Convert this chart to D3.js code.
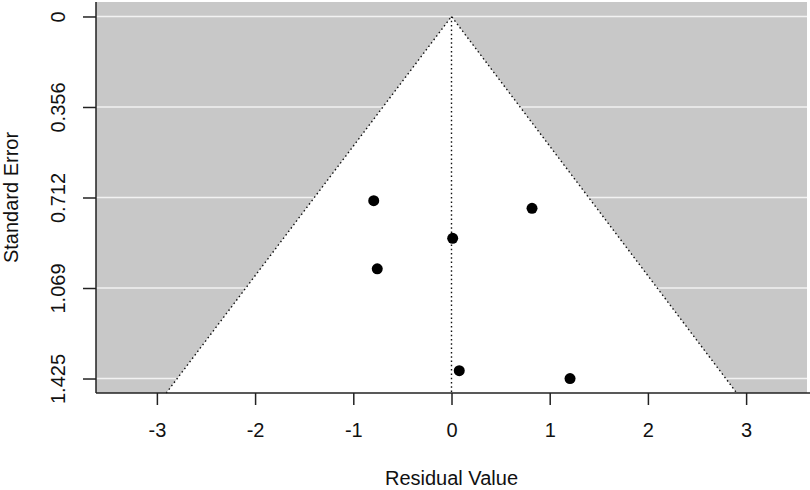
<!DOCTYPE html>
<html>
<head>
<meta charset="utf-8">
<script src="https://d3js.org/d3.v7.min.js"></script>
<style>
  html, body { margin: 0; padding: 0; background: #fff; }
  svg { display: block; font-family: "Liberation Sans", Arial, sans-serif; }
</style>
</head>
<body>
<svg id="chart" width="810" height="490"></svg>
<script>
// residual values and their standard errors
const residuals = [-0.792, 0.820, 0.012, -0.756, 0.079, 1.207];
const stdErrors = [0.725, 0.755, 0.873, 0.993, 1.394, 1.425];

const xTicks = [-3, -2, -1, 0, 1, 2, 3];
const xTickLabels = ['-3', '-2', '-1', '0', '1', '2', '3'];
const yTicks = [0, 0.35625, 0.7125, 1.06875, 1.425];
const yTickLabels = ['0', '0.356', '0.712', '1.069', '1.425'];

const seMax = 1.425;
const zCrit = 1.96;

const svg = d3.select('#chart');
const W = 810, H = 490;
const plot = { left: 96, right: 807, top: 2, bottom: 393 };

// R-style 4% axis expansion
const yPad = seMax * 0.04;
const x = d3.scaleLinear().domain([-3.62, 3.62]).range([plot.left, plot.right]);
const y = d3.scaleLinear().domain([-yPad, seMax + yPad]).range([plot.top, plot.bottom]);
const yBottom = y.domain()[1];

// grey background
svg.append('rect')
  .attr('x', plot.left).attr('y', plot.top)
  .attr('width', plot.right - plot.left).attr('height', plot.bottom - plot.top)
  .attr('fill', '#c8c8c8');

// white horizontal grid lines
svg.append('g').selectAll('line')
  .data(yTicks).join('line')
    .attr('x1', plot.left).attr('x2', plot.right)
    .attr('y1', d => y(d)).attr('y2', d => y(d))
    .attr('stroke', '#f2f2f2').attr('stroke-width', 1.6);

// funnel (white triangle)
const funnel = [[-zCrit * yBottom, yBottom], [0, 0], [zCrit * yBottom, yBottom]];
svg.append('path')
  .attr('d', d3.line().x(d => x(d[0])).y(d => y(d[1]))(funnel) + 'Z')
  .attr('fill', '#fff');

// dotted funnel edges
svg.append('path')
  .attr('d', d3.line().x(d => x(d[0])).y(d => y(d[1]))(funnel))
  .attr('fill', 'none').attr('stroke', '#111')
  .attr('stroke-width', 1.4).attr('stroke-dasharray', '1.5,2.8');

// dotted centre line
svg.append('line')
  .attr('x1', x(0)).attr('x2', x(0))
  .attr('y1', y(0)).attr('y2', y(yBottom))
  .attr('stroke', '#111').attr('stroke-width', 1.4).attr('stroke-dasharray', '1.5,2.8');

// points
svg.append('g').selectAll('circle')
  .data(residuals.map((r, i) => ({ r, se: stdErrors[i] })))
  .join('circle')
    .attr('cx', d => x(d.r)).attr('cy', d => y(d.se))
    .attr('r', 5.5).attr('fill', '#000');

// axes
const xAxis = svg.append('g')
  .attr('transform', `translate(0,${plot.bottom})`)
  .call(d3.axisBottom(x).tickValues(xTicks).tickFormat((d, i) => xTickLabels[i])
    .tickSize(12).tickPadding(18).tickSizeOuter(0));
xAxis.select('.domain').attr('d', `M${plot.left},0H${W}`);

const yAxis = svg.append('g')
  .attr('transform', `translate(${plot.left},0)`)
  .call(d3.axisLeft(y).tickValues(yTicks).tickFormat((d, i) => yTickLabels[i]).tickSize(13).tickSizeOuter(0));
yAxis.select('.domain').attr('d', `M0,${plot.top}V${plot.bottom}`);

svg.selectAll('.domain, .tick line').attr('stroke', '#222').attr('stroke-width', 1.5);
svg.selectAll('.tick text').attr('font-size', 20).attr('fill', '#111')
  .attr('font-family', '"Liberation Sans", Arial, sans-serif');

// rotated y tick labels (R las = 0)
yAxis.selectAll('.tick text')
  .attr('x', null).attr('dy', null)
  .attr('text-anchor', 'middle')
  .attr('transform', 'translate(-31,0) rotate(-90)');

// axis titles
svg.append('text')
  .attr('x', x(0)).attr('y', 485)
  .attr('text-anchor', 'middle').attr('font-size', 20).attr('fill', '#111')
  .text('Residual Value');

svg.append('text')
  .attr('transform', `translate(18,${(plot.top + plot.bottom) / 2}) rotate(-90)`)
  .attr('text-anchor', 'middle').attr('font-size', 20).attr('fill', '#111')
  .text('Standard Error');
</script>
</body>
</html>
